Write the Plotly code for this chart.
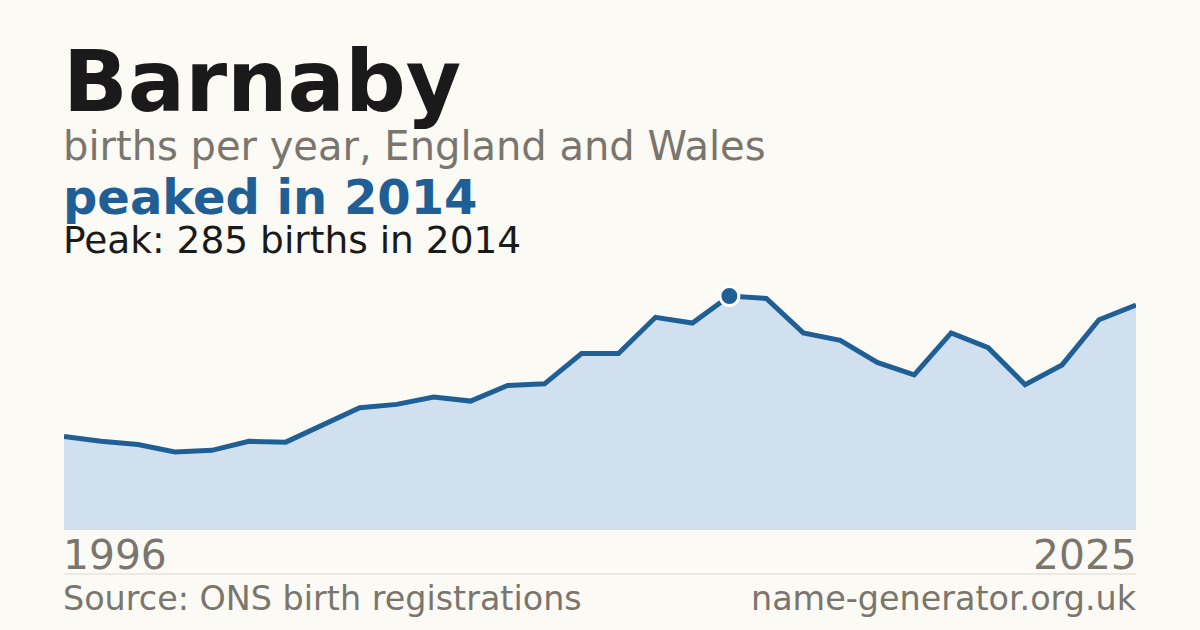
import plotly.graph_objects as go

years = list(range(1996, 2026))
births = [114, 108, 104, 95, 97, 108, 107, 128, 149, 153,
          162, 157, 176, 178, 215, 215, 259, 252, 285, 282,
          240, 231, 204, 189, 240, 222, 177, 201, 256, 274]

name = "Barnaby"
subtitle = "births per year, England and Wales"
headline = "peaked in 2014"
source = "Source: ONS birth registrations"
site = "name-generator.org.uk"

peak = max(births)
peak_year = years[births.index(peak)]

BG = "#fbfaf5"
BLUE = "#1f5f96"
FILL = "#d0e0ef"
GREY = "#7a756d"
INK = "#1a1a1a"
FONT = "DejaVu Sans"

# plot box in pixels
LEFT, RIGHT = 64, 1136
TOP, BOTTOM = 270, 530
PAD = 3  # annotation inner padding


def px_x(px):
    # pixel column -> paper x
    return (px - LEFT) / (RIGHT - LEFT)


def px_y(px):
    # pixel row -> paper y
    return (BOTTOM - px) / (BOTTOM - TOP)


fig = go.Figure()

fig.add_trace(go.Scatter(
    x=years, y=births,
    mode="lines",
    line=dict(color=BLUE, width=5),
    fill="tozeroy",
    fillcolor=FILL,
    hoverinfo="skip",
    showlegend=False,
))

fig.add_trace(go.Scatter(
    x=[peak_year], y=[peak],
    mode="markers",
    marker=dict(color=BLUE, size=19, line=dict(color="white", width=3)),
    hoverinfo="skip",
    showlegend=False,
))

texts = [
    (name, LEFT - PAD, 82, 85, INK, "left", True),
    (subtitle, LEFT - PAD, 146, 40, GREY, "left", False),
    (headline, LEFT - PAD, 197, 48, BLUE, "left", True),
    (f"Peak: {peak} births in {peak_year}", LEFT - PAD, 240, 37.5, INK, "left", False),
    (str(years[0]), LEFT - PAD, 555, 40.8, GREY, "left", False),
    (str(years[-1]), RIGHT + PAD, 555, 40.8, GREY, "right", False),
    (source, LEFT - PAD, 598, 33.4, GREY, "left", False),
    (site, RIGHT + PAD, 598, 33.4, GREY, "right", False),
]

for txt, x, y, size, color, align, bold in texts:
    fig.add_annotation(
        text=f"<b>{txt}</b>" if bold else txt,
        x=px_x(x), y=px_y(y),
        xref="paper", yref="paper",
        xanchor=align, yanchor="middle",
        showarrow=False,
        font=dict(family=FONT, size=size, color=color),
    )

fig.add_shape(
    type="line", xref="paper", yref="paper",
    x0=0, x1=1, y0=px_y(574), y1=px_y(574),
    line=dict(color="#dcd9d0", width=1),
)

fig.update_layout(
    width=1200, height=630,
    margin=dict(l=LEFT, r=1200 - RIGHT, t=TOP, b=630 - BOTTOM),
    paper_bgcolor=BG,
    plot_bgcolor=BG,
    xaxis=dict(range=[years[0], years[-1]], visible=False, fixedrange=True),
    yaxis=dict(range=[0, peak * 1.111], visible=False, fixedrange=True),
)

fig.write_html("out.html", config={"displayModeBar": False},
               post_script="document.body.style.margin='0';")
